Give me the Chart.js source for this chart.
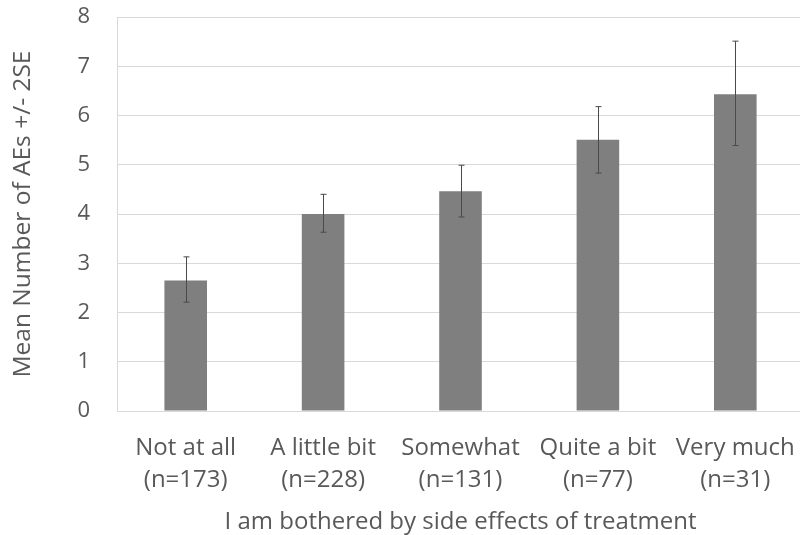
<!DOCTYPE html>
<html>
<head>
<meta charset="utf-8">
<script src="https://cdn.jsdelivr.net/npm/chart.js@4"></script>
<style>
  html, body { margin: 0; padding: 0; background: #fff; overflow: hidden; }
  #wrap { width: 800px; height: 535px; overflow: hidden; }
</style>
</head>
<body>
<div id="wrap"><canvas id="aeChart" width="804" height="535"></canvas></div>
<script>
// Data
const categories = [
  ['Not at all', '(n=173)'],
  ['A little bit', '(n=228)'],
  ['Somewhat', '(n=131)'],
  ['Quite a bit', '(n=77)'],
  ['Very much', '(n=31)']
];
const meanAEs = [2.65, 4.0, 4.46, 5.51, 6.43];
const errLow = [2.21, 3.63, 3.94, 4.83, 5.39];
const errHigh = [3.13, 4.40, 4.99, 6.18, 7.51];
const yTicks = [0, 1, 2, 3, 4, 5, 6, 7, 8];

const textColor = '#595959';
const fontFamily = "'Open Sans', sans-serif";

// Error bars drawn through the y scale
const errorBars = {
  id: 'errorBars',
  afterDatasetsDraw(chart) {
    const ctx = chart.ctx;
    const meta = chart.getDatasetMeta(0);
    const y = chart.scales.y;
    ctx.save();
    ctx.strokeStyle = '#4a4a4a';
    ctx.lineWidth = 1;
    meta.data.forEach((bar, i) => {
      const x = Math.round(bar.x) + 0.5;
      const top = y.getPixelForValue(errHigh[i]);
      const bot = y.getPixelForValue(errLow[i]);
      ctx.beginPath();
      ctx.moveTo(x, top);
      ctx.lineTo(x, bot);
      ctx.moveTo(x - 3, top);
      ctx.lineTo(x + 3, top);
      ctx.moveTo(x - 3, bot);
      ctx.lineTo(x + 3, bot);
      ctx.stroke();
    });
    ctx.restore();
  }
};

const ctx = document.getElementById('aeChart').getContext('2d');
new Chart(ctx, {
  type: 'bar',
  data: {
    labels: categories,
    datasets: [{
      data: meanAEs,
      backgroundColor: '#7f7f7f',
      borderWidth: 0,
      categoryPercentage: 1,
      barPercentage: 0.31
    }]
  },
  options: {
    responsive: false,
    animation: false,
    layout: { padding: { top: 17, right: 0, bottom: 0, left: 0 } },
    plugins: {
      legend: { display: false },
      tooltip: { enabled: false }
    },
    scales: {
      x: {
        afterFit(scale) {
          scale.height = 124;
          scale.paddingLeft = 0;
          scale.paddingRight = 0;
        },
        grid: { display: false, drawTicks: false },
        border: { display: true, color: '#d9d9d9' },
        ticks: {
          color: textColor,
          padding: 21,
          maxRotation: 0,
          autoSkip: false,
          font: { family: fontFamily, size: 24, lineHeight: 1.35 }
        },
        title: {
          display: true,
          text: 'I am bothered by side effects of treatment',
          color: textColor,
          font: { family: fontFamily, size: 24, lineHeight: 1 },
          padding: { top: 0, bottom: 1 }
        }
      },
      y: {
        min: 0,
        max: 8,
        afterFit(scale) {
          scale.width = 117;
          // keep the tick padding from pushing the plot down
          scale.paddingTop = 0;
          scale.paddingBottom = 0;
        },
        afterBuildTicks(scale) { scale.ticks = yTicks.map(v => ({ value: v })); },
        grid: { color: '#d9d9d9', drawTicks: false },
        border: { display: true, color: '#d9d9d9' },
        ticks: {
          color: textColor,
          padding: 27,
          font: { family: fontFamily, size: 22 }
        },
        title: {
          display: true,
          text: 'Mean Number of AEs +/- 2SE',
          color: textColor,
          font: { family: fontFamily, size: 24.5, lineHeight: 1 },
          padding: { top: 11, bottom: 0 }
        }
      }
    }
  },
  plugins: [errorBars]
});
</script>
</body>
</html>
